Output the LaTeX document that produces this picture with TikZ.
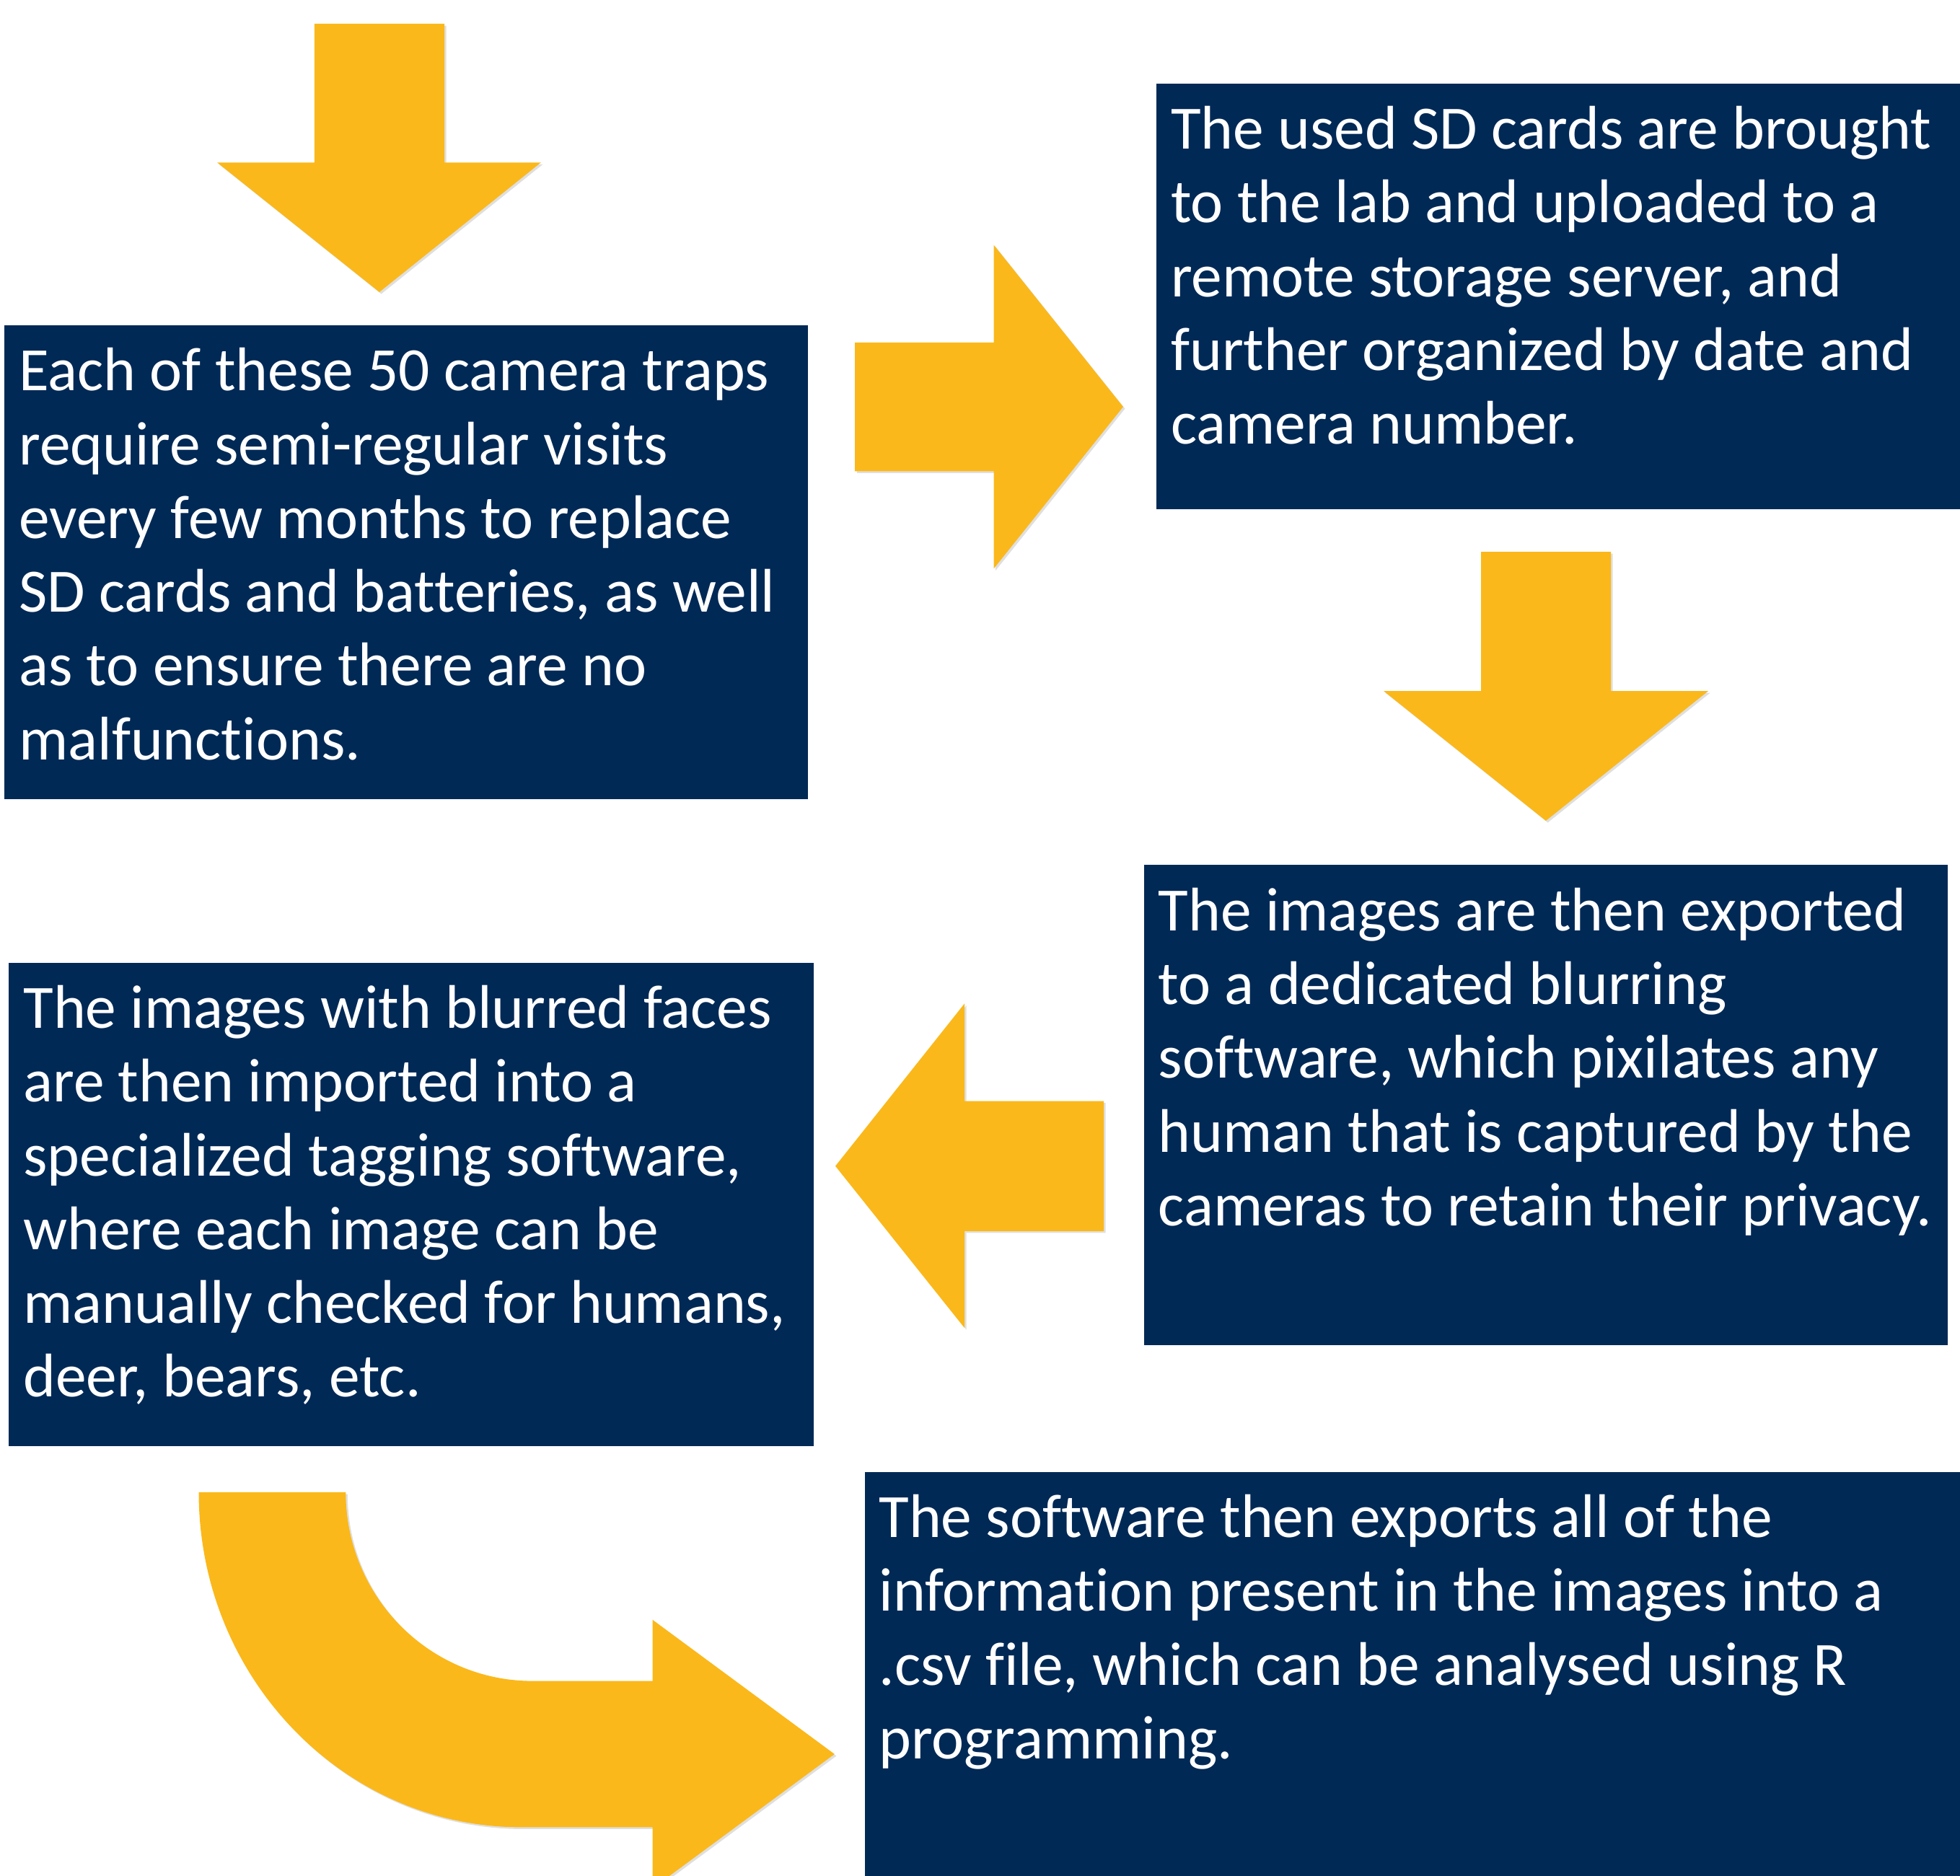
\documentclass[tikz,border=0pt]{standalone}
\usepackage{fontspec}
\setmainfont[Ligatures={NoCommon,NoContextual}]{Carlito}
\usetikzlibrary{shadows}
\definecolor{camNavy}{RGB}{0,41,86}
\definecolor{camYellow}{RGB}{251,184,26}
\tikzset{
  navybox/.style={fill=camNavy, inner sep=0pt, anchor=north west},
  boxtext/.style={text=white, align=left, inner sep=0pt, anchor=north west,
    font=\fontsize{49.3}{59}\selectfont},
  yarrow/.style={fill=camYellow, drop shadow={shadow xshift=1.5pt, shadow yshift=-1.5pt, opacity=0.25}},
}
\newcommand{\firstline}{\rule{0pt}{40pt}}
\begin{document}
\begin{tikzpicture}[x=1pt,y=-1pt]
\clip (0,0) rectangle (1568,1501);
% boxes
\node[navybox, minimum width=642.5pt, minimum height=379pt] (traps) at (3.5,260) {};
\node[navybox, minimum width=643pt, minimum height=341pt] (upload) at (925,66.5) {};
\node[navybox, minimum width=643pt, minimum height=384pt] (blur) at (915,692) {};
\node[navybox, minimum width=644pt, minimum height=387pt] (tagging) at (7,770) {};
\node[navybox, minimum width=876.5pt, minimum height=323.5pt] (export) at (691.5,1177.5) {};
% texts
\node[boxtext] (trapsText) at ([shift={(11.5,12.5)}]traps.north west) {\firstline Each of these 50 camera traps\\require semi-regular visits\\every few months to replace\\SD cards and batteries, as well\\as to ensure there are no\\malfunctions.};
\node[boxtext] (uploadText) at ([shift={(11.5,12.5)}]upload.north west) {\firstline The used SD cards are brought\\to the lab and uploaded to a\\remote storage server, and\\further organized by date and\\camera number.};
\node[boxtext] (blurText) at ([shift={(11.5,12.5)}]blur.north west) {\firstline The images are then exported\\to a dedicated blurring\\software, which pixilates any\\human that is captured by the\\cameras to retain their privacy.};
\node[boxtext] (taggingText) at ([shift={(11.5,12.5)}]tagging.north west) {\firstline The images with blurred faces\\are then imported into a\\specialized tagging software,\\where each image can be\\manually checked for humans,\\deer, bears, etc.};
\node[boxtext] (exportText) at ([shift={(11.5,12.5)}]export.north west) {\firstline The software then exports all of the\\information present in the images into a\\.csv file, which can be analysed using R\\programming.};
% arrows
\fill[yarrow] (251.6,19) -- (355.5,19) -- (355.5,130) -- (432.8,130) -- (303.5,233.7) -- (173.7,130) -- (251.6,130) -- cycle;
\fill[yarrow] (684,274) -- (795,274) -- (795,196) -- (898.5,325.5) -- (795,455) -- (795,377) -- (684,377) -- cycle;
\fill[yarrow] (1184.8,441.5) -- (1288.7,441.5) -- (1288.7,552.9) -- (1366.6,552.9) -- (1236.7,656.7) -- (1106.9,552.9) -- (1184.8,552.9) -- cycle;
\fill[yarrow] (883,881) -- (771.6,881) -- (771.6,803) -- (668.3,933) -- (771.6,1062.5) -- (771.6,985) -- (883,985) -- cycle;
\fill[yarrow] (159,1194) -- (276.6,1194) .. controls (276.6,1277.4) and (343.5,1345) .. (426,1345)
  -- (522,1345) -- (522,1296) -- (667.6,1403.5) -- (522,1511) -- (522,1462) -- (417,1462)
  .. controls (274.5,1462) and (159,1342) .. (159,1194) -- cycle;
\end{tikzpicture}
\end{document}
